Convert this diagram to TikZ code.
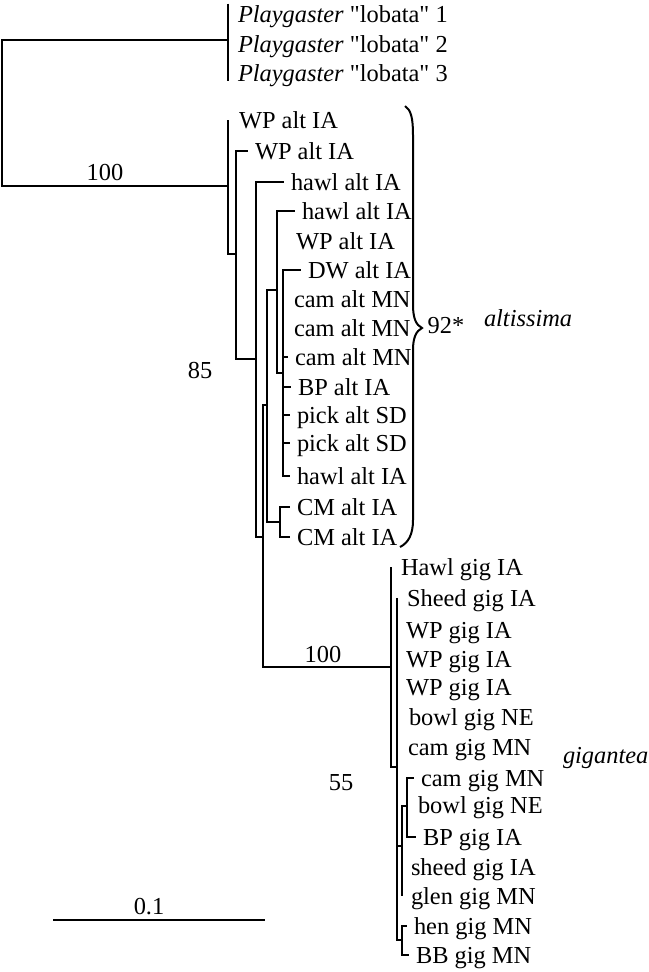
\documentclass[tikz,border=0pt]{standalone}
\usepackage{fontspec}
\setmainfont{Liberation Serif}[Ligatures=TeXOff]
\usepackage{tikz}

\begin{document}
\begin{tikzpicture}[x=0.75pt, y=-0.75pt, line width=1.5pt,
        font=\fontsize{18.3}{22}\selectfont,
        leaf/.style={anchor=west, inner xsep=4.5pt, inner ysep=0pt, text height=13pt, text depth=1pt},
        support/.style={inner sep=0pt}]
        \useasboundingbox (0,0) rectangle (649,972);

        % Internal nodes
        \coordinate (R) at (2,113);
        \coordinate (O) at (228,40);
        \coordinate (A) at (228,186);
        \coordinate (B) at (236,254);
        \coordinate (C) at (256,359);
        \coordinate (D) at (263,537);
        \coordinate (E) at (267,405);
        \coordinate (F) at (277,290);
        \coordinate (G) at (283,373);
        \coordinate (M) at (280,522);
        \coordinate (H) at (391,667);
        \coordinate (I) at (397,767);
        \coordinate (K) at (402,846);
        \coordinate (L) at (407,806);
        \coordinate (J) at (402,940);

        % Outgroup
        \node[leaf] (lob1) at (231,14) {\textit{Playgaster} "lobata" 1};
        \node[leaf] (lob2) at (231,44) {\textit{Playgaster} "lobata" 2};
        \node[leaf] (lob3) at (231,73) {\textit{Playgaster} "lobata" 3};

        % altissima
        \node[leaf] (wpa) at (232,120) {WP alt IA};
        \node[leaf] (wpb) at (248,151) {WP alt IA};
        \node[leaf] (hawla) at (284,182) {hawl alt IA};
        \node[leaf] (hawlb) at (295,211) {hawl alt IA};
        \node[leaf] (wpc) at (289,241) {WP alt IA};
        \node[leaf] (dw) at (301,270) {DW alt IA};
        \node[leaf] (cama) at (287,299) {cam alt MN};
        \node[leaf] (camb) at (287,328) {cam alt MN};
        \node[leaf] (camc) at (288,357) {cam alt MN};
        \node[leaf] (bp) at (291,387) {BP alt IA};
        \node[leaf] (picka) at (290,415) {pick alt SD};
        \node[leaf] (pickb) at (290,443) {pick alt SD};
        \node[leaf] (hawlc) at (290,476) {hawl alt IA};
        \node[leaf] (cma) at (290,507) {CM alt IA};
        \node[leaf] (cmb) at (290,537) {CM alt IA};

        % gigantea
        \node[leaf] (hawlg) at (394,567) {Hawl gig IA};
        \node[leaf] (sheedg) at (400,598) {Sheed gig IA};
        \node[leaf] (wpga) at (399,630) {WP gig IA};
        \node[leaf] (wpgb) at (399,659) {WP gig IA};
        \node[leaf] (wpgc) at (399,687) {WP gig IA};
        \node[leaf] (bowlga) at (402,717) {bowl gig NE};
        \node[leaf] (camga) at (401,747) {cam gig MN};
        \node[leaf] (camgb) at (414,778) {cam gig MN};
        \node[leaf] (bowlgb) at (411,805) {bowl gig NE};
        \node[leaf] (bpg) at (416,837) {BP gig IA};
        \node[leaf] (sheedgb) at (404,867) {sheed gig IA};
        \node[leaf] (glen) at (404,896) {glen gig MN};
        \node[leaf] (hen) at (407,926) {hen gig MN};
        \node[leaf] (bb) at (409,955) {BB gig MN};

        % Branches
        \draw (R) |- (O);
        \draw (R) |- (A);
        \draw (O |- lob1.north) -- (O |- lob3.base);
        \draw (A) -- (A |- wpa);
        \draw (A) |- (B);
        \draw (B) |- (wpb.west);
        \draw (B) |- (C);
        \draw (C) |- (hawla.west);
        \draw (C) |- (D);
        \draw (D) |- (E);
        \draw (D) |- (H);
        \draw (E) |- (F);
        \draw (E) |- (M);
        \draw (F) |- (hawlb.west);
        \draw (F) |- (G);
        \foreach \n in {dw,camc,bp,picka,pickb,hawlc}
            \draw (G) |- (\n.west);
        \foreach \n in {cma,cmb}
            \draw (M) |- (\n.west);
        \draw (H) -- (H |- hawlg);
        \draw (H) |- (I);
        \draw (I) -- (I |- sheedg);
        \draw (I) |- (K);
        \draw (I) |- (J);
        \draw (K) |- (L);
        \draw (K) -- (K |- glen);
        \foreach \n in {camgb,bpg}
            \draw (L) |- (\n.west);
        \foreach \n in {hen,bb}
            \draw (J) |- (\n.west);

        % Support values
        \node[support] (s100a) at (105,172) {100};
        \node[support] (s85) at (200,370) {85};
        \node[support] (s100b) at (323,654) {100};
        \node[support] (s55) at (341,783) {55};

        % Brace and clade names
        \draw (405,106) .. controls (411,110) and (413,118) .. (413,135) -- (413,305)
            .. controls (413,318) and (416,325) .. (422,328)
            .. controls (416,331) and (413,338) .. (413,350) -- (413,520)
            .. controls (413,535) and (408,543) .. (400,547);
        \node[support] (s92) at (446,326) {92*};
        \node[support, anchor=west] (alt) at (483,318) {\textit{altissima}};
        \node[support, anchor=west] (gig) at (562,758) {\textit{gigantea}};

        % Scale bar
        \coordinate (sbl) at (53,920);
        \coordinate (sbr) at (265,920);
        \draw (sbl) -- (sbr);
        \node[support] (sbt) at (149,907) {0.1};
\end{tikzpicture}
\end{document}
